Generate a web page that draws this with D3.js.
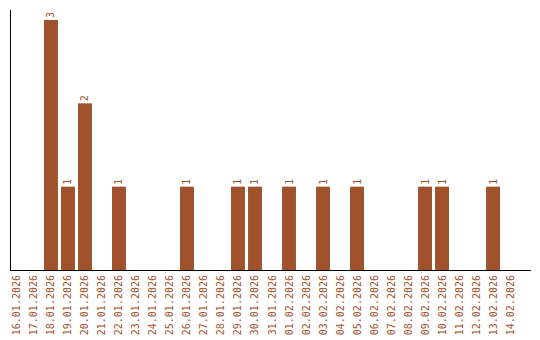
<!DOCTYPE html>
<html>
<head>
<meta charset="utf-8">
<script src="https://cdn.jsdelivr.net/npm/d3@7"></script>
<style>
  body { margin: 0; background: #fff; }
  text { font-family: "DejaVu Sans Mono", monospace; font-size: 10px; fill: #a0522d; }
</style>
</head>
<body>
<svg id="chart" width="540" height="340"></svg>
<script>
'use strict';
// one entry per day, counts
const days = ["16.01.2026","17.01.2026","18.01.2026","19.01.2026","20.01.2026","21.01.2026",
  "22.01.2026","23.01.2026","24.01.2026","25.01.2026","26.01.2026","27.01.2026","28.01.2026",
  "29.01.2026","30.01.2026","31.01.2026","01.02.2026","02.02.2026","03.02.2026","04.02.2026",
  "05.02.2026","06.02.2026","07.02.2026","08.02.2026","09.02.2026","10.02.2026","11.02.2026",
  "12.02.2026","13.02.2026","14.02.2026"];
const counts = [0,0,3,1,2,0,1,0,0,0,1,0,0,1,1,0,1,0,1,0,1,0,0,0,1,1,0,0,1,0];

const data = days.map((d, i) => ({day: d, count: counts[i]}));

const svg = d3.select("#chart");
const plotLeft = 10, plotRight = 517, plotTop = 20, plotBottom = 270;

const x = d3.scaleBand()
  .domain(days)
  .range([plotLeft, plotRight])
  .paddingInner(0.18)
  .paddingOuter(0);

const y = d3.scaleLinear()
  .domain([0, 3])
  .range([plotBottom, plotTop]);

const color = "#a0522d";

const bars = data.filter(d => d.count > 0);

svg.append("g")
  .selectAll("rect")
  .data(bars)
  .enter()
  .append("rect")
  .attr("x", d => x(d.day))
  .attr("y", d => y(d.count))
  .attr("width", x.bandwidth())
  .attr("height", d => plotBottom - y(d.count))
  .attr("fill", color);

// value labels, turned on their side
svg.append("g")
  .selectAll("text")
  .data(bars)
  .enter()
  .append("text")
  .attr("transform", d => `translate(${x(d.day) + x.bandwidth() / 2 + 3.5},${y(d.count) - 2}) rotate(-90)`)
  .text(d => d.count);

// day labels
svg.append("g")
  .selectAll("text")
  .data(days)
  .enter()
  .append("text")
  .attr("transform", d => `translate(${x(d) + x.bandwidth() / 2 + 3.5},${plotBottom + 5}) rotate(-90)`)
  .attr("text-anchor", "end")
  .text(d => d);

// axis lines
svg.append("line")
  .attr("x1", plotLeft + 0.5).attr("x2", plotLeft + 0.5)
  .attr("y1", 10).attr("y2", plotBottom)
  .attr("stroke", "#000");
svg.append("line")
  .attr("x1", plotLeft).attr("x2", 531)
  .attr("y1", plotBottom + 0.5).attr("y2", plotBottom + 0.5)
  .attr("stroke", "#000");
</script>
</body>
</html>
